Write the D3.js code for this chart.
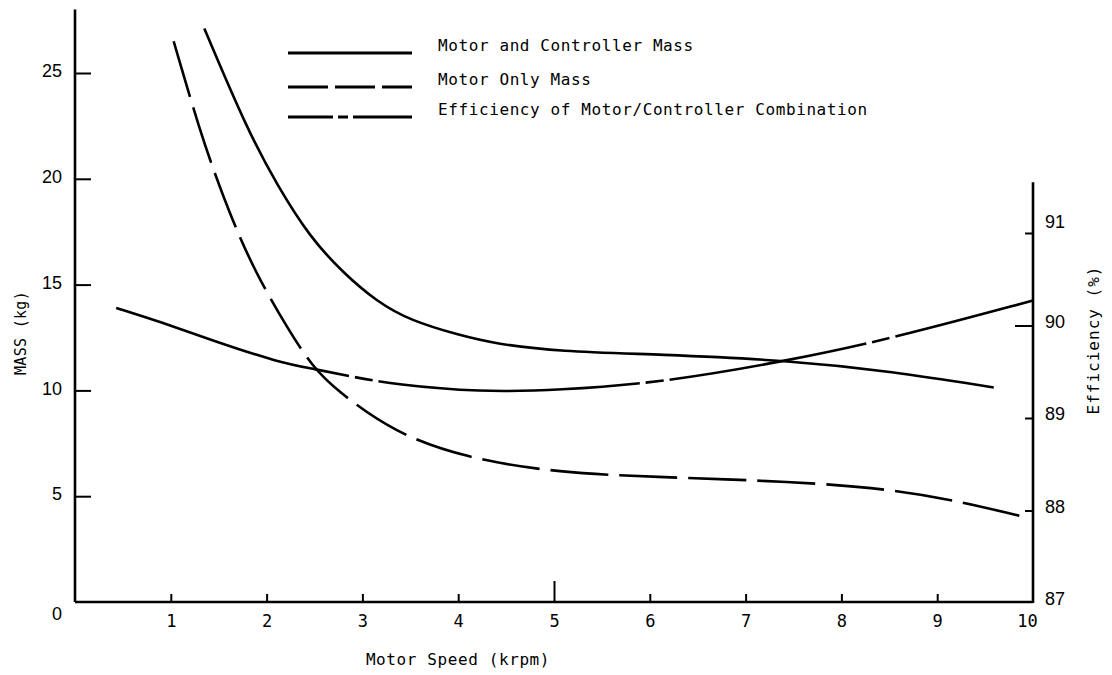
<!DOCTYPE html>
<html>
<head>
<meta charset="utf-8">
<script src="https://cdn.jsdelivr.net/npm/d3@7/dist/d3.min.js"></script>
<style>
  body { margin: 0; background: #fff; }
  svg { display: block; }
  .mono { font-family: "DejaVu Sans Mono", monospace; }
  .sans { font-family: "Liberation Sans", Arial, sans-serif; }
</style>
</head>
<body>
<svg id="chart" width="1112" height="675"></svg>
<script>
// motor + controller mass (kg) vs speed (krpm)
var mcSpeed = [1.35, 1.80, 2.11, 2.45, 2.80, 3.15, 3.50, 4.02, 4.39, 5.05, 6.1, 7.45, 8.53, 9.59];
var mcMass  = [27.1, 22.3, 19.7, 17.25, 15.55, 14.2, 13.3, 12.6, 12.2, 11.84, 11.7, 11.42, 10.9, 10.14];

// motor only mass (kg)
var moSpeed = [1.03, 1.30, 1.51, 1.72, 1.93, 2.21, 2.48, 2.73, 3.33, 4.08, 5.05, 6.1, 7.48, 8.53, 9.23, 9.93];
var moMass  = [26.5, 22.3, 19.6, 17.2, 15.2, 13.0, 11.1, 10.0, 8.0, 6.8, 6.1, 5.9, 5.7, 5.33, 4.76, 4.0];

// efficiency of motor/controller combination (%)
var efSpeed = [0.43, 0.89, 1.43, 2.13, 2.5, 2.87, 3.35, 4.22, 5.05, 6.1, 7.45, 8.53, 10.0];
var efValue = [90.19, 90.04, 89.84, 89.6, 89.53, 89.45, 89.36, 89.28, 89.3, 89.38, 89.62, 89.86, 90.27];

var speedTicks = [1, 2, 3, 4, 5, 6, 7, 8, 9, 10];
var massTicks = [0, 5, 10, 15, 20, 25];
var effTicks = [87, 88, 89, 90, 91];
var legendLabels = ["Motor and Controller Mass", "Motor Only Mass", "Efficiency of Motor/Controller Combination"];

var svg = d3.select("#chart");

var x = d3.scaleLinear().domain([0, 10]).range([75, 1033]);
var y = d3.scaleLinear().domain([0, 25]).range([602, 73]);
var yE = d3.scaleLinear().domain([87, 91]).range([603, 233]);

// axis lines
svg.append("line")
  .attr("x1", x(0)).attr("x2", x(0))
  .attr("y1", y(0)).attr("y2", y(28.0))
  .attr("stroke", "#000").attr("stroke-width", 2.6);
svg.append("line")
  .attr("x1", x(0)).attr("x2", x(10))
  .attr("y1", y(0)).attr("y2", y(0))
  .attr("stroke", "#000").attr("stroke-width", 2.6);
svg.append("line")
  .attr("x1", x(10)).attr("x2", x(10))
  .attr("y1", yE(87)).attr("y2", yE(91.55))
  .attr("stroke", "#000").attr("stroke-width", 2.6);

// left axis
var gl = svg.append("g")
  .attr("transform", "translate(" + x(0) + ",0)")
  .call(d3.axisLeft(y).tickValues(massTicks).tickSize(-16).tickPadding(13));
gl.attr("font-family", null).attr("font-size", null);
gl.select(".domain").remove();
gl.selectAll(".tick line").attr("stroke-width", 2);
gl.selectAll(".tick").filter(function(d){ return d === 0; }).select("line").remove();
gl.selectAll("text").attr("class", "sans").style("font-size", "18px").attr("fill", "#000")
  .attr("dy", function(d){ return d === 0 ? "0.95em" : "0.2em"; });

// bottom axis
var gb = svg.append("g")
  .attr("transform", "translate(0," + y(0) + ")")
  .call(d3.axisBottom(x).tickValues(speedTicks).tickSize(-8).tickPadding(13));
gb.attr("font-family", null).attr("font-size", null);
gb.select(".domain").remove();
gb.selectAll(".tick line").attr("stroke-width", 2);
gb.selectAll(".tick").filter(function(d){ return d === 5; }).select("line").attr("y2", -21);
gb.selectAll(".tick").filter(function(d){ return d === 10; }).select("line").remove();
gb.selectAll("text").attr("class", "mono").style("font-size", "17px").attr("fill", "#000")
  .attr("dx", function(d){ return d === 10 ? "-6px" : "0"; });

// right axis
var gr = svg.append("g")
  .attr("transform", "translate(" + x(10) + ",0)")
  .call(d3.axisRight(yE).tickValues(effTicks).tickFormat(d3.format("d")).tickSize(-8).tickPadding(12));
gr.attr("font-family", null).attr("font-size", null);
gr.select(".domain").remove();
gr.selectAll(".tick line").attr("stroke-width", 2);
gr.selectAll(".tick").filter(function(d){ return d === 90; }).select("line").attr("x2", -18);
gr.selectAll(".tick").filter(function(d){ return d === 87; }).select("line").remove();
gr.selectAll("text").attr("class", "sans").style("font-size", "18px").attr("fill", "#000")
  .attr("dy", function(d){ return d === 91 ? "-0.3em" : "0.1em"; });

// axis titles
svg.append("text").attr("class", "mono")
  .attr("x", 458).attr("y", 665).attr("text-anchor", "middle")
  .style("font-size", "16px").style("letter-spacing", "0.6px")
  .text("Motor Speed (krpm)");
svg.append("text").attr("class", "mono")
  .attr("transform", "translate(26,333) rotate(-90)").attr("text-anchor", "middle")
  .style("font-size", "15px").style("letter-spacing", "0.3px")
  .text("MASS (kg)");
svg.append("text").attr("class", "mono")
  .attr("transform", "translate(1099,340) rotate(-90)").attr("text-anchor", "middle")
  .style("font-size", "16px").style("letter-spacing", "1px")
  .text("Efficiency (%)");

// curves (basis smooths the hand-read points)
var massLine = d3.line().x(function(d){ return x(d[0]); }).y(function(d){ return y(d[1]); })
  .curve(d3.curveBasis);
var effLine = d3.line().x(function(d){ return x(d[0]); }).y(function(d){ return yE(d[1]); })
  .curve(d3.curveBasis);

svg.append("path")
  .datum(d3.zip(mcSpeed, mcMass))
  .attr("d", massLine)
  .attr("fill", "none").attr("stroke", "#000").attr("stroke-width", 2.6);

svg.append("path")
  .datum(d3.zip(moSpeed, moMass))
  .attr("d", massLine)
  .attr("fill", "none").attr("stroke", "#000").attr("stroke-width", 2.6)
  .attr("stroke-dasharray", "58,11");

svg.append("path")
  .datum(d3.zip(efSpeed, efValue))
  .attr("d", effLine)
  .attr("fill", "none").attr("stroke", "#000").attr("stroke-width", 2.6)
  .attr("stroke-dasharray", "243,6,18,6,262,6,18,6,200,6,18,6,2000");

// legend
var legY = [53, 87, 117];
var legDash = [null, "40,7", "45,5,10,5,400"];
var leg = svg.append("g");
legendLabels.forEach(function(t, i){
  leg.append("line")
    .attr("x1", 288).attr("x2", 412).attr("y1", legY[i]).attr("y2", legY[i])
    .attr("stroke", "#000").attr("stroke-width", 3)
    .attr("stroke-dasharray", legDash[i]);
  leg.append("text").attr("class", "mono")
    .attr("x", 438).attr("y", legY[i] - 2)
    .style("font-size", "16px").style("letter-spacing", "0.6px")
    .attr("fill", "#000")
    .text(t);
});
</script>
</body>
</html>
